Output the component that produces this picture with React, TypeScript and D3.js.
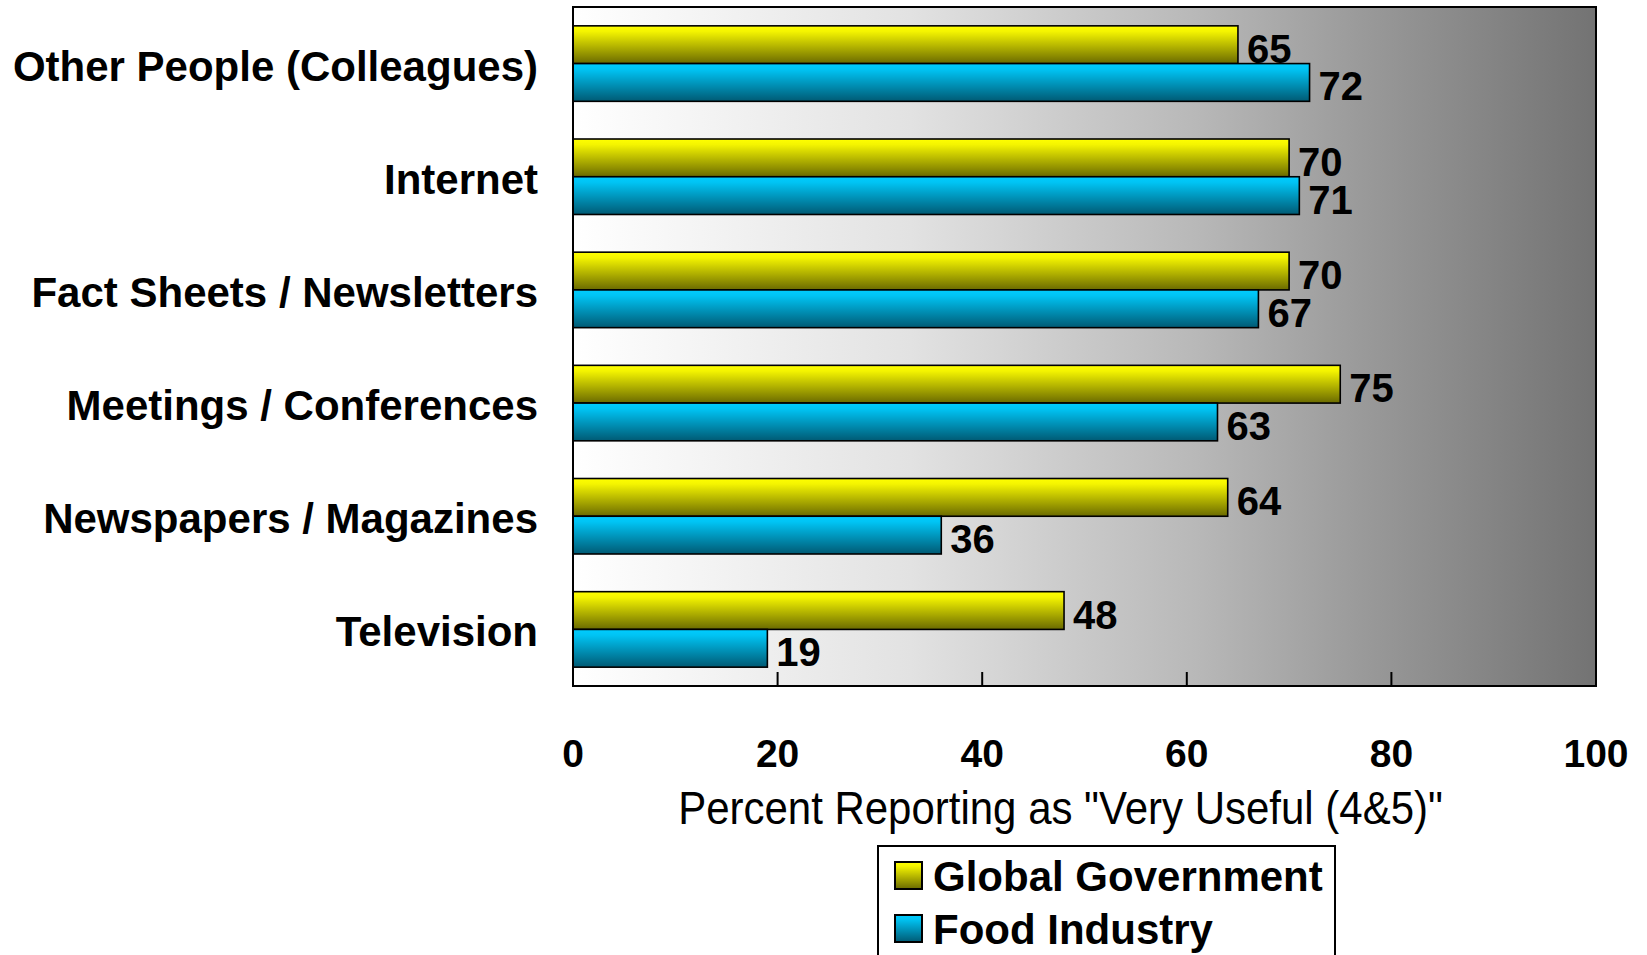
import React from "react";
import * as d3 from "d3";

const categories = [
  "Other People (Colleagues)",
  "Internet",
  "Fact Sheets / Newsletters",
  "Meetings / Conferences",
  "Newspapers / Magazines",
  "Television",
];
const seriesNames = ["Global Government", "Food Industry"];
const globalGovernment = [65, 70, 70, 75, 64, 48];
const foodIndustry = [72, 71, 67, 63, 36, 19];
const xTicks = [0, 20, 40, 60, 80, 100];
const axisTitle = 'Percent Reporting as "Very Useful (4&5)"';

const W = 1647;
const H = 955;
const plot = { left: 573, right: 1596, top: 7, bottom: 686 };
const FONT = "'Liberation Sans', Arial, Helvetica, sans-serif";

export default function App() {
  const x = d3.scaleLinear().domain([0, 100]).range([plot.left, plot.right]);
  const y = d3
    .scaleBand<string>()
    .domain(categories)
    .range([plot.top, plot.bottom])
    .paddingInner(0.333)
    .paddingOuter(0.1665);
  const inner = d3
    .scaleBand<string>()
    .domain(seriesNames)
    .range([0, y.bandwidth()]);
  const series = [globalGovernment, foodIndustry];
  const fills = ["url(#gradYellow)", "url(#gradCyan)"];

  return (
    <svg
      width={W}
      height={H}
      style={{ position: "absolute", left: 0, top: 0, background: "#fff" }}
      fontFamily={FONT}
    >
      <defs>
        <linearGradient id="bgGrad" x1="0" y1="0" x2="1" y2="0">
          <stop offset="0" stopColor="#ffffff" />
          <stop offset="0.33" stopColor="#e2e2e2" />
          <stop offset="0.61" stopColor="#b8b8b8" />
          <stop offset="0.77" stopColor="#9a9a9a" />
          <stop offset="1" stopColor="#737373" />
        </linearGradient>
        <linearGradient id="gradYellow" x1="0" y1="0" x2="0" y2="1">
          <stop offset="0" stopColor="#ffff00" />
          <stop offset="0.15" stopColor="#f4f400" />
          <stop offset="1" stopColor="#6a6a00" />
        </linearGradient>
        <linearGradient id="gradCyan" x1="0" y1="0" x2="0" y2="1">
          <stop offset="0" stopColor="#00ccff" />
          <stop offset="0.15" stopColor="#00c4f4" />
          <stop offset="1" stopColor="#005a74" />
        </linearGradient>
      </defs>

      {/* plot background */}
      <rect
        x={plot.left}
        y={plot.top}
        width={plot.right - plot.left}
        height={plot.bottom - plot.top}
        fill="url(#bgGrad)"
      />

      {/* bars */}
      {categories.map((c, i) => (
        <g key={c} transform={`translate(0,${y(c)})`}>
          {seriesNames.map((s, j) => {
            const v = series[j][i];
            const by = inner(s)!;
            const bh = inner.bandwidth();
            return (
              <g key={s}>
                <rect
                  x={x(0)}
                  y={by}
                  width={x(v) - x(0)}
                  height={bh}
                  fill={fills[j]}
                  stroke="#000"
                  strokeWidth={1.6}
                />
                <text
                  x={x(v) + 9}
                  y={by + bh / 2 + 18}
                  fontSize={40}
                  fontWeight="bold"
                  fill="#000"
                >
                  {v}
                </text>
              </g>
            );
          })}
        </g>
      ))}

      {/* ticks */}
      {xTicks
        .filter((t) => t > 0 && t < 100)
        .map((t) => (
          <line
            key={t}
            x1={x(t)}
            x2={x(t)}
            y1={plot.bottom}
            y2={plot.bottom - 14}
            stroke="#000"
            strokeWidth={2}
          />
        ))}

      {/* plot border */}
      <rect
        x={plot.left}
        y={plot.top}
        width={plot.right - plot.left}
        height={plot.bottom - plot.top}
        fill="none"
        stroke="#000"
        strokeWidth={2}
      />

      {/* tick labels */}
      {xTicks.map((t) => (
        <text
          key={t}
          x={x(t)}
          y={767}
          textAnchor="middle"
          fontSize={39}
          fontWeight="bold"
          fill="#000"
        >
          {t}
        </text>
      ))}

      {/* category labels */}
      {categories.map((c) => (
        <text
          key={c}
          x={538}
          y={y(c)! + y.bandwidth() / 2 + 17}
          textAnchor="end"
          fontSize={42}
          fontWeight="bold"
          fill="#000"
        >
          {c}
        </text>
      ))}

      {/* axis title */}
      <g transform={`translate(1060.5,824) scale(1,1.1)`}>
        <text x={0} y={0} textAnchor="middle" fontSize={42} fill="#000">
          {axisTitle}
        </text>
      </g>

      {/* legend */}
      <rect
        x={878}
        y={846}
        width={457}
        height={140}
        fill="#fff"
        stroke="#000"
        strokeWidth={2}
      />
      {seriesNames.map((s, j) => (
        <g key={s} transform={`translate(0,${j * 53})`}>
          <rect
            x={895}
            y={862}
            width={27}
            height={27}
            fill={fills[j]}
            stroke="#000"
            strokeWidth={2}
          />
          <text x={933} y={891} fontSize={42} fontWeight="bold" fill="#000">
            {s}
          </text>
        </g>
      ))}
    </svg>
  );
}
